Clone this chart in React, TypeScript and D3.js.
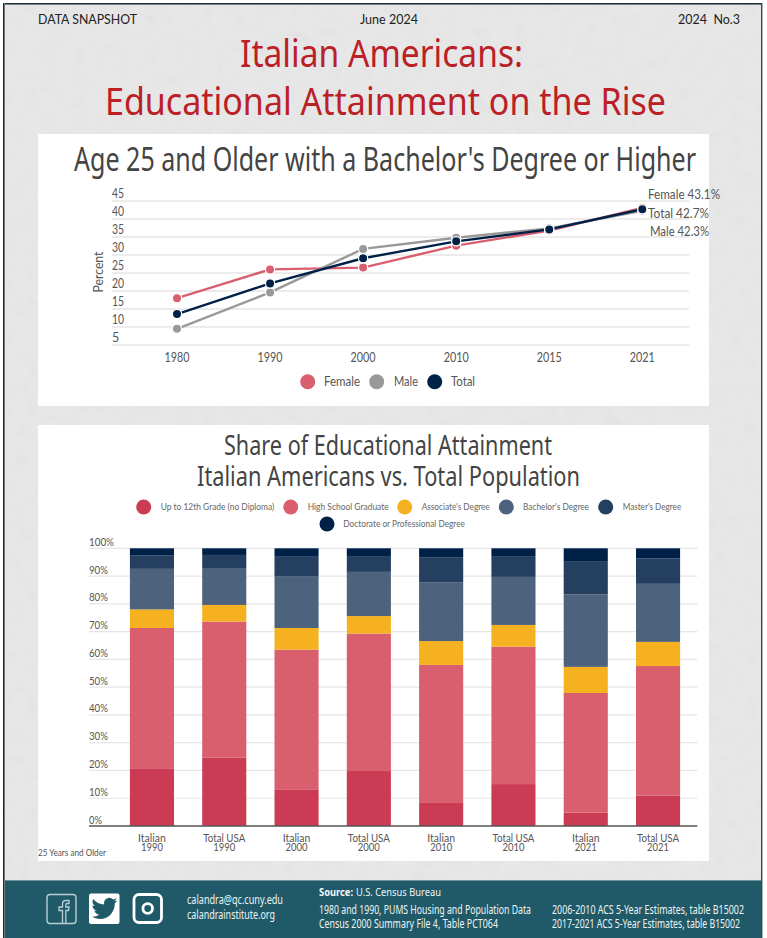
import React from "react";
import * as d3 from "d3";

// Bachelor's degree or higher, age 25+, percent
const years = ["1980", "1990", "2000", "2010", "2015", "2021"];
const female = [18.0, 26.0, 26.5, 32.6, 36.8, 43.1];
const male = [9.5, 19.6, 31.7, 34.8, 37.4, 42.3];
const total = [13.6, 22.1, 29.1, 33.8, 37.1, 42.7];
const percentTicks = [5, 10, 15, 20, 25, 30, 35, 40, 45];

// Attainment shares, percent of population 25 and older
const barGroups = ["Italian", "Total USA", "Italian", "Total USA", "Italian", "Total USA", "Italian", "Total USA"];
const barYears = ["1990", "1990", "2000", "2000", "2010", "2010", "2021", "2021"];
const upTo12th = [20.8, 24.7, 13.0, 19.8, 8.3, 15.1, 4.8, 10.9];
const highSchool = [50.5, 48.9, 50.5, 49.5, 49.7, 49.5, 43.1, 46.7];
const associates = [6.7, 6.0, 7.8, 6.3, 8.6, 7.8, 9.4, 8.7];
const bachelors = [14.6, 13.3, 18.7, 15.9, 21.2, 17.3, 26.1, 20.9];
const masters = [4.9, 4.7, 7.2, 5.7, 9.0, 7.5, 12.0, 9.1];
const doctorate = [2.5, 2.4, 2.8, 2.8, 3.2, 2.8, 4.6, 3.7];
const shareTicks = [0, 10, 20, 30, 40, 50, 60, 70, 80, 90, 100];

const NAVY = "#002147";
const ROSE = "#d95f6f";
const GREY = "#999999";
const TEAL = "#205a68";
const TEXT = "#555555";
const SANS = "Lato, 'Noto Sans', sans-serif";
const NARROW = "'Liberation Sans Narrow', 'Noto Sans', sans-serif";

const lineSeries = [
  { name: "Female", values: female, color: ROSE },
  { name: "Male", values: male, color: GREY },
  { name: "Total", values: total, color: NAVY },
];

const shareSeries = [
  { name: "Up to 12th Grade (no Diploma)", values: upTo12th, color: "#cc3b54" },
  { name: "High School Graduate", values: highSchool, color: ROSE },
  { name: "Associate's Degree", values: associates, color: "#f5b120" },
  { name: "Bachelor's Degree", values: bachelors, color: "#4d627c" },
  { name: "Master's Degree", values: masters, color: "#243f60" },
  { name: "Doctorate or Professional Degree", values: doctorate, color: NAVY },
];

const x1 = d3.scalePoint<string>().domain(years).range([177, 642.3]);
const y1 = d3.scaleLinear().domain([5, 45]).range([345, 201]);
const line = d3
  .line<number>()
  .x((_, i) => x1(years[i]) as number)
  .y((v) => y1(v));

const barIds = barGroups.map((_, i) => String(i));
const x2 = d3.scaleBand<string>().domain(barIds).range([115.8, 694.2]).paddingInner(0.39).paddingOuter(0.195);
const y2 = d3.scaleLinear().domain([0, 100]).range([826, 548.3]);
const stackRows = barIds.map((_, i) => Object.fromEntries(shareSeries.map((s) => [s.name, s.values[i]])));
const stacked = d3.stack<Record<string, number>>().keys(shareSeries.map((s) => s.name))(stackRows);

type LabelProps = {
  x: number;
  y: number;
  w?: number;
  size: number;
  fill?: string;
  font?: string;
  weight?: number;
  anchor?: "start" | "middle" | "end";
  children: React.ReactNode;
};

// Text fitted to a set advance width, so the condensed faces keep their measure
function Label({ x, y, w, size, fill = TEXT, font = SANS, weight = 400, anchor = "start", children }: LabelProps) {
  return (
    <text
      x={x}
      y={y}
      fontSize={size}
      fill={fill}
      fontFamily={font}
      fontWeight={weight}
      textAnchor={anchor}
      style={{ whiteSpace: "pre" }}
      {...(w ? { textLength: w, lengthAdjust: "spacingAndGlyphs" } : {})}
    >
      {children}
    </text>
  );
}

const legend1 = [
  { cx: 307.7, tx: 324, w: 36 },
  { cx: 376.7, tx: 394, w: 24 },
  { cx: 434.7, tx: 451, w: 24 },
];

const legend2 = [
  { cx: 143.7, cy: 507, tx: 160.7, w: 113.6 },
  { cx: 290.7, cy: 507, tx: 307.7, w: 81 },
  { cx: 404.7, cy: 507, tx: 421.7, w: 68 },
  { cx: 506.3, cy: 507, tx: 523, w: 66 },
  { cx: 605.7, cy: 507, tx: 622.7, w: 58.5 },
  { cx: 327, cy: 524, tx: 343.3, w: 121.7 },
];

const endLabels = [
  { text: "Female 43.1%", x: 648, y: 198.5, w: 72 },
  { text: "Total 42.7%", x: 648, y: 217.5, w: 61 },
  { text: "Male 42.3%", x: 650, y: 235.5, w: 59 },
];

const twitterBird =
  "M23.95 4.57a10 10 0 0 1-2.82.77 4.96 4.96 0 0 0 2.16-2.72c-.95.55-2 .96-3.13 1.18a4.92 4.92 0 0 0-8.38 4.48C7.69 8.09 4.07 6.13 1.64 3.16a4.9 4.9 0 0 0-.67 2.48c0 1.71.87 3.21 2.19 4.1a4.9 4.9 0 0 1-2.23-.61v.06c0 2.39 1.7 4.38 3.95 4.83a5 5 0 0 1-2.21.08 4.94 4.94 0 0 0 4.6 3.42A9.87 9.87 0 0 1 0 19.54a14 14 0 0 0 7.56 2.21c9.05 0 14-7.5 14-13.98 0-.21 0-.42-.02-.63a9.94 9.94 0 0 0 2.41-2.57z";

export default function App() {
  return (
    <svg
      width={767}
      height={938}
      viewBox="0 0 767 938"
      style={{ position: "absolute", left: 0, top: 0, display: "block", background: "#fff" }}
    >
      <defs>
        {/* Mottled paper behind the panels */}
        <filter id="paper" x="0" y="0" width="100%" height="100%">
          <feTurbulence type="fractalNoise" baseFrequency="0.07" numOctaves={4} seed={7} />
          <feColorMatrix
            type="matrix"
            values="0 0 0 0 0.5  0 0 0 0 0.5  0 0 0 0 0.5  0.55 0.55 0 0 -0.5"
          />
        </filter>
      </defs>

      {/* Page frame and background */}
      <rect x={5} y={5} width={756} height={933} fill="#e7e7e7" />
      <rect x={5} y={5} width={756} height={933} filter="url(#paper)" opacity={0.25} />
      <rect x={5} y={3} width={756} height={1.6} fill="#1d2f38" />
      <rect x={3} y={3} width={1.6} height={935} fill="#222" />
      <rect x={761} y={3} width={1.4} height={935} fill="#444" />

      {/* Masthead */}
      <Label x={38} y={24} w={99} size={14} fill="#222">DATA SNAPSHOT</Label>
      <Label x={360} y={24} w={58} size={14} fill="#222">June 2024</Label>
      <Label x={678} y={24} w={62} size={14} fill="#222">2024  No.3</Label>
      <Label x={240} y={67} w={283} size={39} fill="#bb2026" font={NARROW}>Italian Americans:</Label>
      <Label x={105} y={115} w={561} size={39} fill="#bb2026" font={NARROW}>Educational Attainment on the Rise</Label>

      {/* Line chart panel */}
      <rect x={38} y={134} width={671} height={272} fill="#fff" />
      <Label x={74} y={171} w={622} size={33} fill="#444" font={NARROW}>Age 25 and Older with a Bachelor's Degree or Higher</Label>

      {percentTicks.map((t) => (
        <g key={t}>
          <line x1={112} x2={689} y1={y1(t)} y2={y1(t)} stroke="#e6e6e6" strokeWidth={1.4} />
          <Label x={112} y={y1(t) - 2.6} w={t > 5 ? 12 : undefined} size={12.5}>{t}</Label>
        </g>
      ))}
      <text
        transform="translate(103,272) rotate(-90)"
        textAnchor="middle"
        fontSize={12.5}
        fontFamily={SANS}
        fill={TEXT}
        textLength={41}
        lengthAdjust="spacingAndGlyphs"
      >
        Percent
      </text>
      {years.map((yr) => (
        <Label key={yr} x={(x1(yr) as number) - 12.5} y={362} w={25} size={12.5}>{yr}</Label>
      ))}

      {lineSeries.map((s) => (
        <path key={s.name} d={line(s.values) as string} fill="none" stroke={s.color} strokeWidth={2.4} />
      ))}
      {lineSeries.map((s) =>
        s.values.map((v, i) => (
          <circle
            key={s.name + i}
            cx={x1(years[i]) as number}
            cy={y1(v)}
            r={4.6}
            fill={s.color}
            stroke="#fff"
            strokeWidth={1.2}
          />
        ))
      )}
      {endLabels.map((l) => (
        <Label key={l.text} x={l.x} y={l.y} w={l.w} size={12.5}>{l.text}</Label>
      ))}
      {lineSeries.map((s, i) => (
        <g key={s.name}>
          <circle cx={legend1[i].cx} cy={381.7} r={7.5} fill={s.color} />
          <Label x={legend1[i].tx} y={386} w={legend1[i].w} size={12.5}>{s.name}</Label>
        </g>
      ))}

      {/* Stacked bar panel */}
      <rect x={38} y={425} width={671} height={436} fill="#fff" />
      <Label x={224} y={455} w={328} size={28} fill="#444" font={NARROW}>Share of Educational Attainment</Label>
      <Label x={197} y={486} w={383} size={28} fill="#444" font={NARROW}>Italian Americans vs. Total Population</Label>

      {shareSeries.map((s, i) => (
        <g key={s.name}>
          <circle cx={legend2[i].cx} cy={legend2[i].cy} r={7.5} fill={s.color} />
          <Label x={legend2[i].tx} y={legend2[i].cy + 3.3} w={legend2[i].w} size={9.5} fill="#666">{s.name}</Label>
        </g>
      ))}

      {shareTicks.map((t) => (
        <g key={t}>
          {t > 0 && <line x1={89} x2={697.3} y1={y2(t)} y2={y2(t)} stroke="#e6e6e6" strokeWidth={1.2} />}
          <Label x={89} y={y2(t) - 2.5} w={t === 100 ? 25 : t === 0 ? 13 : 19} size={11.5}>{t}%</Label>
        </g>
      ))}

      {stacked.map((layer, k) =>
        layer.map((d, i) => (
          <rect
            key={k + "-" + i}
            x={x2(barIds[i])}
            y={y2(d[1])}
            width={x2.bandwidth()}
            height={y2(d[0]) - y2(d[1])}
            fill={shareSeries[k].color}
          />
        ))
      )}
      <line x1={89} x2={697.3} y1={826} y2={826} stroke="#555" strokeWidth={1.6} />

      {barIds.map((id, i) => {
        const cx = (x2(id) as number) + x2.bandwidth() / 2;
        const nameW = barGroups[i] === "Italian" ? 27.7 : 42;
        return (
          <g key={id}>
            <Label x={cx - nameW / 2} y={841.5} w={nameW} size={11}>{barGroups[i]}</Label>
            <Label x={cx - 11} y={850.5} w={22} size={11}>{barYears[i]}</Label>
          </g>
        );
      })}
      <Label x={38} y={856} w={68} size={8.5}>25 Years and Older</Label>

      {/* Footer band */}
      <rect x={5} y={880} width={756} height={58} fill={TEAL} />
      <rect x={5} y={880} width={756} height={1} fill="#6f929b" />

      <rect x={47} y={894.5} width={29} height={29} rx={3} fill="none" stroke="#b9ced2" strokeWidth={1.4} />
      <path
        d="M62.5 923.5 V910.5 H59 V907 H62.5 V904 Q62.5 900.5 66 900.5 H69 V903.5 H67 Q65.8 903.5 65.8 905 V907 H69 L68.5 910.5 H65.8 V923.5"
        fill="none"
        stroke="#b9ced2"
        strokeWidth={1.3}
      />

      <rect x={89} y={893.5} width={30.5} height={30.5} rx={2} fill="#fff" />
      <path d={twitterBird} transform="translate(91.5,895.5) scale(1.08)" fill={TEAL} />

      <rect x={134} y={894.5} width={27.5} height={28} rx={5} fill="none" stroke="#fff" strokeWidth={2.8} />
      <circle cx={147.7} cy={908.5} r={4.8} fill="none" stroke="#fff" strokeWidth={2.8} />

      <Label x={187} y={904} w={96} size={12.5} fill="#eef4f5" font={NARROW}>calandra@qc.cuny.edu</Label>
      <Label x={187} y={919} w={88} size={12.5} fill="#eef4f5" font={NARROW}>calandrainstitute.org</Label>

      <Label x={319} y={896} w={34} size={10.5} fill="#f5f8f9" font={NARROW} weight={700}>Source:</Label>
      <Label x={356} y={896} w={85} size={10} fill="#eef4f5" font={NARROW}>U.S. Census Bureau</Label>
      <Label x={319} y={914} w={212} size={12.5} fill="#eef4f5" font={NARROW}>1980 and 1990, PUMS Housing and Population Data</Label>
      <Label x={319} y={928} w={179} size={12.5} fill="#eef4f5" font={NARROW}>Census 2000 Summary File 4, Table PCT064</Label>
      <Label x={552} y={914} w={192} size={12.5} fill="#eef4f5" font={NARROW}>2006-2010 ACS 5-Year Estimates, table B15002</Label>
      <Label x={552} y={928} w={188} size={12.5} fill="#eef4f5" font={NARROW}>2017-2021 ACS 5-Year Estimates, table B15002</Label>
    </svg>
  );
}
